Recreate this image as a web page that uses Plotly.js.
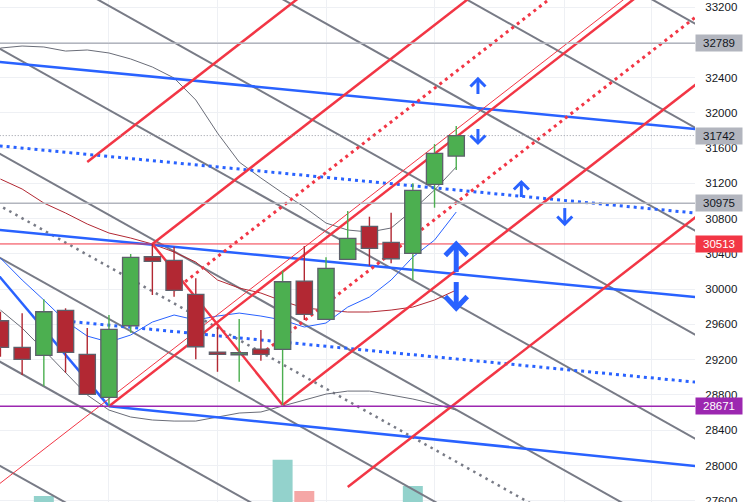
<!DOCTYPE html>
<html>
<head>
<meta charset="utf-8">
<script src="https://cdn.plot.ly/plotly-3.0.1.min.js"></script>
<style>
  html, body { margin: 0; padding: 0; background: #fff; }
  #chart { width: 746px; height: 502px; }
</style>
</head>
<body>
<div id="chart"></div>
<script>
/* ---------- data ---------- */

// one entry per session (bar index)
const barIdx = [0,1,2,3,4,5,6,7,8,9,10,11,12,13,14,15,16,17,18,19,20,21];
const openP  = [29642,29340,29249,29760,29261,28773,29585,30368,30327,29941,29287,29256,29321,29318,30092,29658,30338,30713,30531,30407,31189,31510];
const highP  = [29744,29726,29885,29783,29559,29707,30399,30513,30481,30123,29574,29661,29536,30209,30489,30361,30886,30822,30867,31201,31646,31851];
const lowP   = [29234,29026,28901,29052,28799,28671,29506,29934,29914,29204,29063,28950,29188,28686,29650,29658,30338,30266,30293,30104,30924,31352];
const closeP = [29340,29204,29744,29283,28807,29544,30361,30316,29987,29347,29261,29279,29261,30084,29715,30236,30577,30463,30345,31121,31541,31742];
const volume = [30,28,46,33,35,31,36,30,27,34,29,26,25,82,51,38,32,30,29,56,37,35];

// bollinger bands + short moving average
const bbUpper = [32735,32758,32747,32701,32713,32679,32611,32520,32395,32146,31771,31442,31261,31091,30932,30750,30671,30648,30694,30898,31125,31386];
const bbBasis = [31249,31136,30977,30864,30739,30637,30580,30512,30421,30308,30104,30013,29956,29865,29786,29763,29741,29741,29763,29797,29877,29990];
const bbLower = [29763,29559,29310,29060,28799,28629,28550,28516,28504,28504,28550,28595,28607,28674,28742,28810,28844,28844,28799,28754,28697,28629];
const maShort = [30353,30104,29877,29639,29468,29400,29480,29627,29707,29650,29695,29729,29695,29650,29571,29616,29797,29911,30104,30365,30557,30875];

// price levels with right-hand labels
const levelValues = [32789, 31742, 30975, 30513, 28671];

// drawn trend lines: [barFrom, priceFrom, barTo, priceTo]
const grayChannel = [
  [-1,37570,33,32875],[-1,36390,33,31695],[-1,35222,33,30527],
  [-1,34042,33,29347],[-1,32862,33,28167],[-1,31671,33,26976],
  [-1,30491,33,25796],[-1,29312,33,24617],[-1,28132,33,23437]
];
const grayDotted = [[-1,31081,33,26386]];
const blueSolid = [[-1,32601,33,31793],[-1,30695,33,29887],[5,28671,33,27970],[-1,30423,5,28671]];
const blueDotted = [[-1,31648,33,30840],[3,29639,33,28922]];
const redSolid = [[4,31442,14,33352],[7,30513,22,33378],[7,30513,13,28686],[13,28686,33,32506],[5,28671,30,33446],[16,27755,33,31002]];
const redThin = [[-1,27610,30,33531]];
const redDotted = [[8,29987,27,33616],[12,29261,33,33272]];

// signal arrows: bar, tip price, tail price, large?
const arrowBar  = [22,22,24,26,21,21];
const arrowTip  = [32384,31658,31215,30739,30512,29786];
const arrowTail = [32214,31817,31045,30920,30194,30081];
const arrowBig  = [0,0,0,0,1,1];

const priceTicks = [27600,28000,28400,28800,29200,29600,30000,30400,30800,31200,31600,32000,32400,32800,33200];
const gridBars = [5,10,15,20,26,30];

/* ---------- styling ---------- */
const xRange = [-0.02, 32.0];
const yRange = [27586, 33280];
const plotW = 695, plotH = 502;
const pxPerBar = plotW / (xRange[1] - xRange[0]);
const pricePerPx = (yRange[1] - yRange[0]) / plotH;

const GREEN = '#4caf50', RED = '#b22833', OUTLINE = '#5d606b';
const FONT = 'Liberation Sans, Arial, sans-serif';
const levelBg = ['#b2b5be', '#b2b5be', '#b2b5be', '#f23645', '#9c27b0'];
const levelFg = ['#131722', '#131722', '#131722', '#ffffff', '#ffffff'];

/* ---------- traces ---------- */
const traces = [];

// volume (bottom layer)
traces.push({
  type: 'bar', x: barIdx, y: volume, xaxis: 'x', yaxis: 'y', width: 0.92,
  marker: { color: barIdx.map(i => closeP[i] >= openP[i] ? '#93d2cc' : '#f5a7a6'), line: { width: 0 } },
  hoverinfo: 'skip'
});

function addLine(s, color, width, dash) {
  traces.push({
    type: 'scatter', mode: 'lines', x: [s[0], s[2]], y: [s[1], s[3]],
    xaxis: 'x', yaxis: 'y2', line: { color: color, width: width, dash: dash || 'solid' },
    hoverinfo: 'skip'
  });
}

grayChannel.forEach(s => addLine(s, '#787b86', 2));
grayDotted.forEach(s => addLine(s, '#787b86', 2.5, '2.5px,4.5px'));

// indicator lines
[[bbUpper, '#6a6d78'], [bbLower, '#6a6d78'], [bbBasis, '#b22833'], [maShort, '#2962ff']].forEach(([ys, c]) => {
  traces.push({ type: 'scatter', mode: 'lines', x: barIdx, y: ys, xaxis: 'x', yaxis: 'y2',
    line: { color: c, width: 1 }, hoverinfo: 'skip' });
});

blueSolid.forEach(s => addLine(s, '#2962ff', 2.5));
blueDotted.forEach(s => addLine(s, '#2962ff', 3, '3px,4px'));
redThin.forEach(s => addLine(s, '#f23645', 1));
redSolid.forEach(s => addLine(s, '#f23645', 2.5));
redDotted.forEach(s => addLine(s, '#f23645', 3, '3px,4px'));

// horizontal levels
const levelStyle = [
  { color: '#b2b5be', width: 1.6 },
  { color: '#9598a1', width: 1, dash: '1px,2px' },
  { color: '#b2b5be', width: 1.6 },
  { color: '#f23645', width: 1 },
  { color: '#9c27b0', width: 1.5 }
];
levelValues.forEach((v, i) => addLine([-1, v, 33, v], levelStyle[i].color, levelStyle[i].width, levelStyle[i].dash));

// candles on top layer: wicks then bodies
const up = barIdx.map(i => closeP[i] >= openP[i]);
traces.push({
  type: 'bar', x: barIdx, base: lowP, y: barIdx.map(i => highP[i] - lowP[i]),
  xaxis: 'x', yaxis: 'y3', width: 0.065,
  marker: { color: up.map(u => u ? GREEN : RED), line: { width: 0 } }, hoverinfo: 'skip'
});
traces.push({
  type: 'bar', x: barIdx, base: barIdx.map(i => Math.min(openP[i], closeP[i])),
  y: barIdx.map(i => Math.max(Math.abs(closeP[i] - openP[i]), 12)),
  xaxis: 'x', yaxis: 'y3', width: 0.75,
  marker: { color: up.map(u => u ? GREEN : RED), line: { color: OUTLINE, width: 1.3 } }, hoverinfo: 'skip'
});

// arrows
arrowBar.forEach((b, k) => {
  const big = arrowBig[k] === 1;
  const wing = (big ? 11 : 7.5) / pxPerBar;
  const dir = Math.sign(arrowTail[k] - arrowTip[k]);
  const drop = (big ? 11.5 : 7.5) * pricePerPx * dir;
  const tip = arrowTip[k];
  traces.push({
    type: 'scatter', mode: 'lines', xaxis: 'x', yaxis: 'y3',
    x: [b - wing, b, b + wing, null, b, b],
    y: [tip + drop, tip, tip + drop, null, tip, arrowTail[k]],
    line: { color: '#2962ff', width: big ? 5 : 3 }, hoverinfo: 'skip'
  });
});

/* ---------- layout ---------- */
const layout = {
  width: 746, height: 502,
  margin: { l: 0, r: 746 - plotW, t: 0, b: 0 },
  paper_bgcolor: '#ffffff', plot_bgcolor: '#ffffff',
  showlegend: false, barmode: 'overlay',
  xaxis: { range: xRange, tickvals: gridBars, showticklabels: false, ticks: '',
    showgrid: true, gridcolor: '#eef0f4', zeroline: false, fixedrange: true },
  yaxis: { range: [40, 540], visible: false, fixedrange: true },
  yaxis2: { overlaying: 'y', side: 'right', anchor: 'x', range: yRange,
    tickvals: priceTicks, ticktext: priceTicks.map(String),
    showgrid: true, gridcolor: '#eef0f4', zeroline: false, showline: false,
    ticks: 'outside', ticklen: 7, tickcolor: 'rgba(0,0,0,0)', ticklabeloverflow: 'allow',
    tickfont: { family: FONT, size: 11.5, color: '#131722' }, fixedrange: true },
  yaxis3: { overlaying: 'y', anchor: 'x', range: yRange, visible: false, fixedrange: true },
  annotations: levelValues.map((v, i) => ({
    x: 1, xref: 'paper', xanchor: 'left', y: v, yref: 'y2', yanchor: 'middle',
    text: String(v), showarrow: false, bgcolor: levelBg[i],
    font: { family: FONT, size: 11.5, color: levelFg[i] },
    width: 42, height: 12, borderpad: 2, align: 'center'
  }))
};

Plotly.newPlot('chart', traces, layout, { displayModeBar: false, staticPlot: true });
</script>
</body>
</html>
